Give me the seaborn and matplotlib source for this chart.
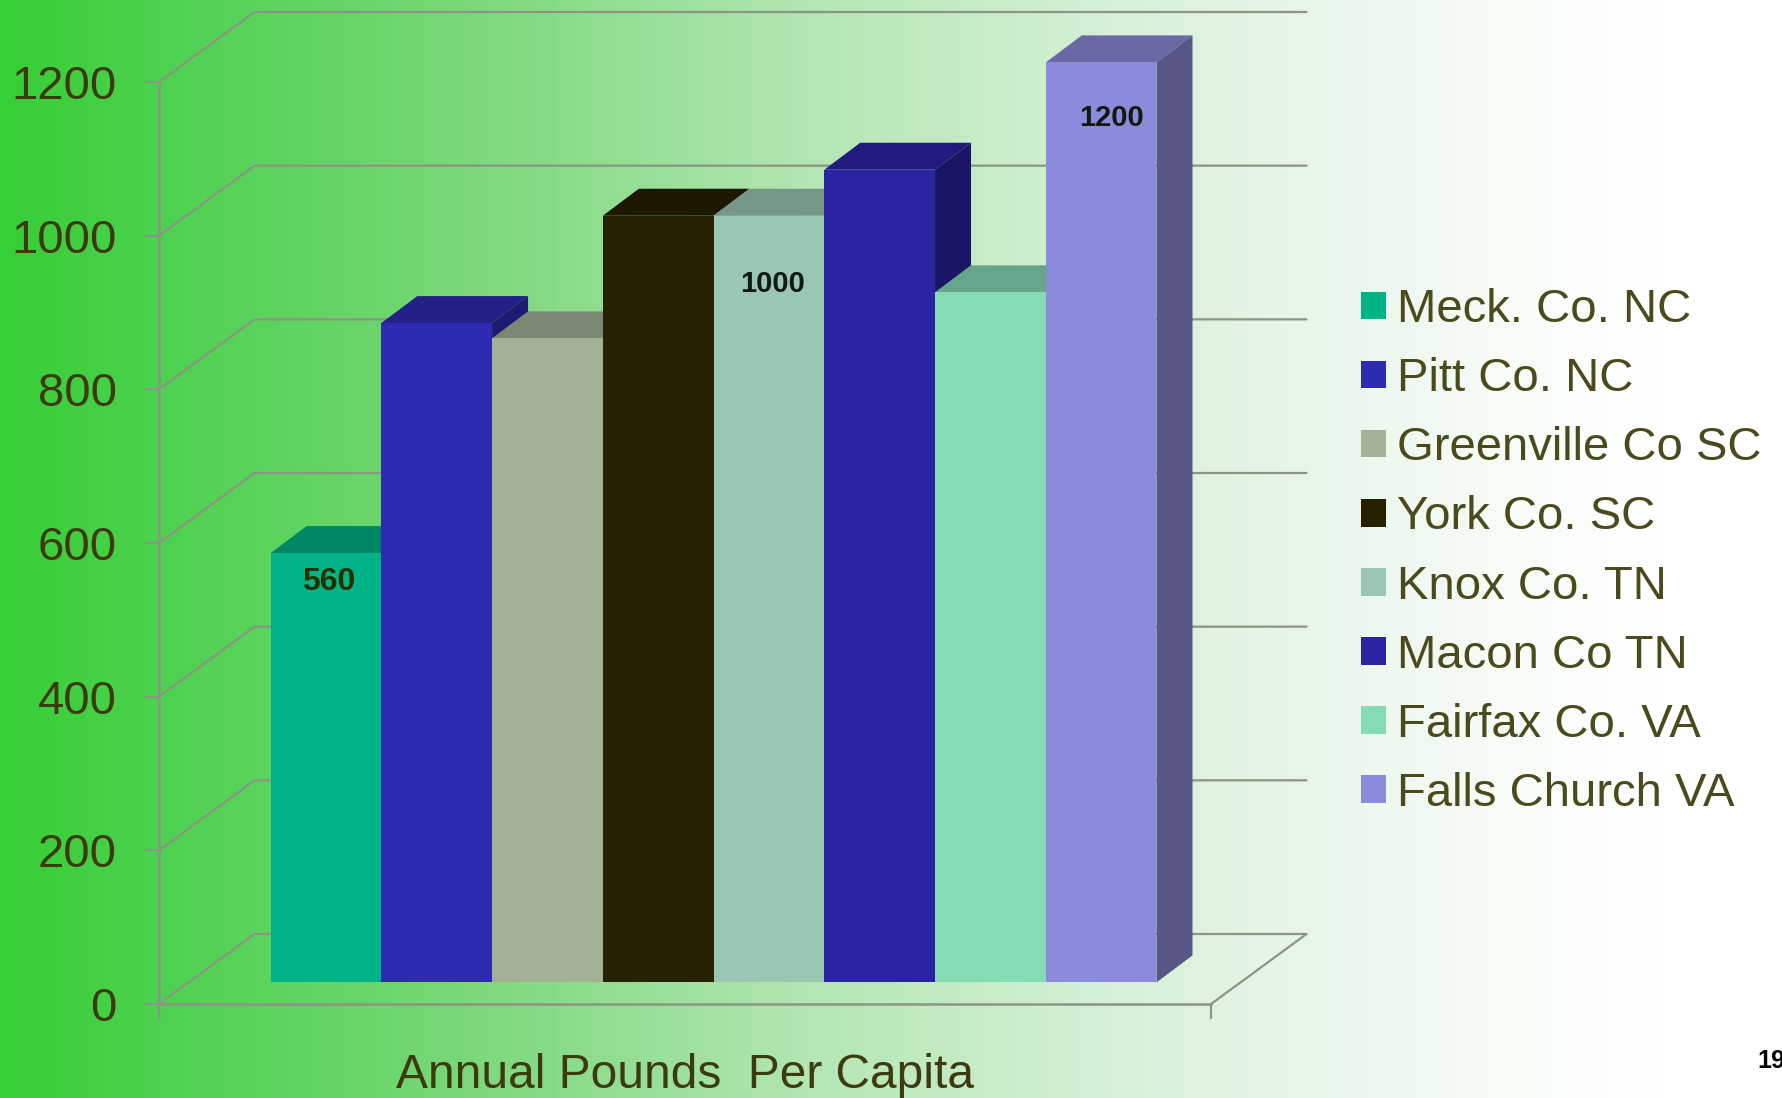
import matplotlib
matplotlib.use("Agg")
import matplotlib.pyplot as plt
import numpy as np
import pandas as pd
import seaborn as sns
from matplotlib.colors import LinearSegmentedColormap, to_rgb
from matplotlib.patches import Patch, Polygon
from matplotlib.transforms import IdentityTransform

counties = ["Meck. Co. NC", "Pitt Co. NC", "Greenville Co SC", "York Co. SC",
            "Knox Co. TN", "Macon Co TN", "Fairfax Co. VA", "Falls Church VA"]
pounds = [560, 860, 840, 1000, 1000, 1060, 900, 1200]
colors = ["#00b386", "#2e2bb3", "#a3b297", "#262100",
          "#9ac7b3", "#2a24a3", "#85dbb5", "#8c8ada"]
yticks = [0, 200, 400, 600, 800, 1000, 1200]
labelled = {"Meck. Co. NC": "560", "Knox Co. TN": "1000", "Falls Church VA": "1200"}

W, H = 1783, 1098
TEXT = "#3c3a0e"
GRID = "#8c9484"
WALL = (95.5, 70)   # depth of the back wall, px
BAR = (36, 27)      # depth of each bar, px

sns.set_theme(style="white")
plt.rcParams["font.family"] = ["Liberation Sans", "DejaVu Sans"]


def rect(x0, x1, y_bottom, y_top):
    return [x0 / W, 1 - y_bottom / H, (x1 - x0) / W, (y_bottom - y_top) / H]


def shade(color, k):
    return tuple(c * k for c in to_rgb(color))


fig = plt.figure(figsize=(W / 100, H / 100), dpi=100)

# background gradient
bg = fig.add_axes([0, 0, 1, 1], zorder=0)
cmap = LinearSegmentedColormap.from_list("bg", [
    (0.0, "#36ce36"), (0.1, "#50d252"), (0.2, "#68d568"), (0.3, "#85db85"),
    (0.45, "#b2e6b2"), (0.58, "#cdeecd"), (0.72, "#e6f5e8"), (0.85, "#f7fcf7"),
    (0.93, "#ffffff"), (1.0, "#ffffff")])
bg.imshow(np.linspace(0, 1, 512)[None, :], cmap=cmap, aspect="auto", vmin=0, vmax=1)
bg.set_axis_off()

# front plane: carries the axis, ticks and the wall lines
front = fig.add_axes(rect(159, 1211, 1004, 82), zorder=1)
front.patch.set_visible(False)
front.set_xlim(0, 1)
front.set_ylim(0, 1200)
front.set_yticks(yticks)
front.set_xticks([0, 1], ["", ""])
front.tick_params(axis="both", length=10.5, width=1.5, color=GRID, left=True, bottom=True)
front.tick_params(axis="y", pad=20, labelsize=34, labelcolor=TEXT)
for side in ["top", "right"]:
    front.spines[side].set_visible(False)
for side in ["left", "bottom"]:
    front.spines[side].set_color(GRID)
    front.spines[side].set_linewidth(1.8)
front.set_xlabel("Annual Pounds  Per Capita", fontsize=34.5, color=TEXT, labelpad=21)

for v in yticks:
    x0, y0 = front.transData.transform((0, v))
    x1, _ = front.transData.transform((1, v))
    front.plot([x0, x0 + WALL[0], x1 + WALL[0]], [y0, y0 + WALL[1], y0 + WALL[1]],
               color=GRID, lw=1.6, transform=IdentityTransform(), clip_on=False)
x0, y0 = front.transData.transform((1, 0))
front.plot([x0, x0 + WALL[0]], [y0, y0 + WALL[1]], color=GRID, lw=1.6,
           transform=IdentityTransform(), clip_on=False)

# bars sit on a plane set back from the axis, same value scale
ax = fig.add_axes(rect(270.6, 1156.5, 982.4, 62.4), zorder=2)
df = pd.DataFrame({"county": counties, "pounds": pounds})
sns.barplot(data=df, x="county", y="pounds", hue="county", palette=colors, width=1,
            saturation=1, legend=False, edgecolor="none", linewidth=0, ax=ax)
ax.set_xlim(-0.5, len(counties) - 0.5)
ax.set_ylim(0, 1200)
ax.set_axis_off()

# 3D faces from the drawn bars; a side only shows above the next bar's height
bars = list(ax.patches)
for i, (bar, col) in enumerate(zip(bars, colors)):
    bar.set_zorder(5)
    nxt = bars[i + 1].get_height() if i + 1 < len(bars) else 0
    (xa, ya), (xb, yb) = ax.transData.transform(
        [(bar.get_x(), 0), (bar.get_x() + bar.get_width(), bar.get_height())])
    top = [(xa, yb), (xb, yb), (xb + BAR[0], yb + BAR[1]), (xa + BAR[0], yb + BAR[1])]
    ax.add_patch(Polygon(top, fc=shade(col, 0.76), ec="none", zorder=2,
                         transform=IdentityTransform(), clip_on=False))
    if nxt < bar.get_height():
        yn = ax.transData.transform((0, nxt))[1]
        sd = [(xb, yn), (xb, yb), (xb + BAR[0], yb + BAR[1]), (xb + BAR[0], yn + BAR[1])]
        ax.add_patch(Polygon(sd, fc=shade(col, 0.62), ec="none", zorder=3,
                             transform=IdentityTransform(), clip_on=False))

# value labels
offsets = {"560": (2, -20.5, "#2c3000", 23), "1000": (2.5, -49, "#101a10", 21),
           "1200": (7.5, -40, "#101a10", 21)}
for i, (c, v) in enumerate(zip(counties, pounds)):
    if c in labelled:
        dx, dy, tc, fs = offsets[labelled[c]]
        ax.annotate(labelled[c], (i, v), xytext=(dx, dy), textcoords="offset points",
                    ha="center", va="center", fontsize=fs, fontweight="bold",
                    color=tc, zorder=6)

handles = [Patch(fc=c, ec="none", label=n) for n, c in zip(counties, colors)]
fig.legend(handles=handles, loc="center left", bbox_to_anchor=(1361 / W, 1 - 552 / H),
           frameon=False, fontsize=34, labelcolor="#4a4a1c", handlelength=0.52,
           handleheight=0.52, handletextpad=0.25, labelspacing=0.53,
           borderpad=0, borderaxespad=0)

fig.text(1757 / W, 1 - 1061 / H, "19", fontsize=18, fontweight="bold", color="black",
         ha="left", va="center")

fig.savefig("out.png", dpi=100)
plt.close(fig)
